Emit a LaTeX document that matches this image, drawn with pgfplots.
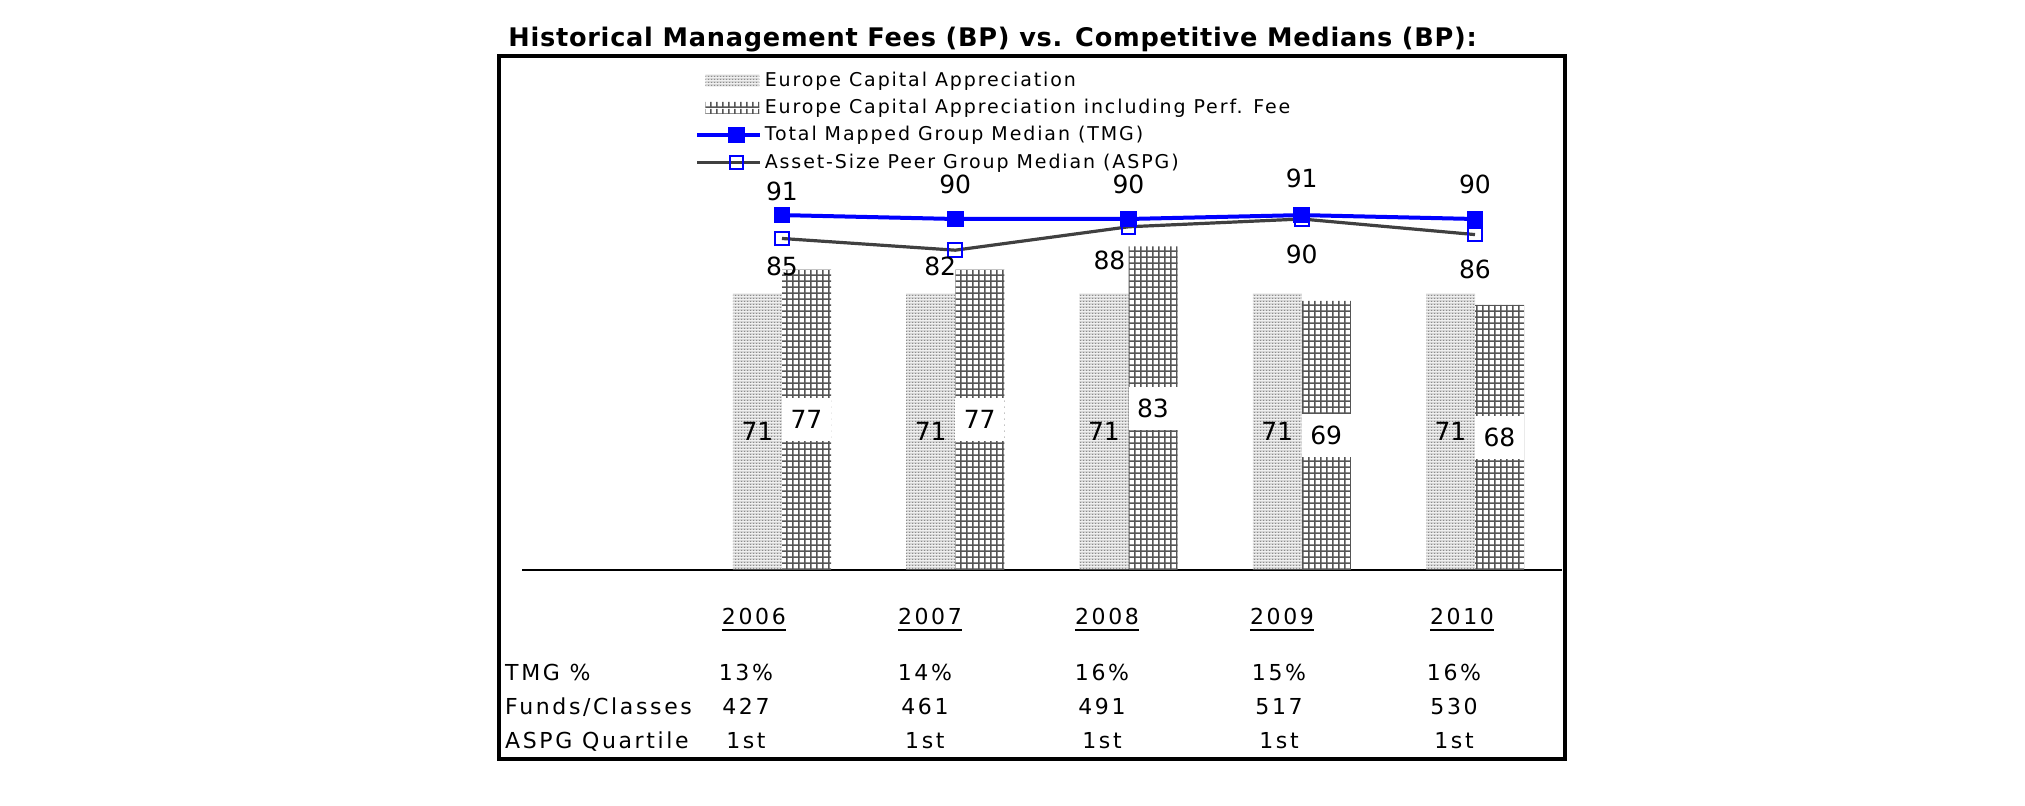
\documentclass[border=0pt]{standalone}
\usepackage{fontspec}
\setmainfont{DejaVu Sans}
\newfontfamily\spaced[LetterSpace=12]{DejaVu Sans}
\newfontfamily\legfont[LetterSpace=10]{DejaVu Sans}
\newfontfamily\titlefont[LetterSpace=2.9]{DejaVu Sans}
\usepackage{pgfplots}
\pgfplotsset{compat=1.18}
\usepackage{pgfplotstable}
\usetikzlibrary{patterns.meta}
\definecolor{tmgblue}{HTML}{0000FF}
\definecolor{aspggray}{HTML}{404040}
\definecolor{gridgray}{HTML}{555555}
\definecolor{dotgray}{HTML}{8C8C8C}
\definecolor{dotbg}{HTML}{D8D8D8}

\tikzdeclarepattern{
  name=stipple,
  type=colored,
  bottom left={(0pt,0pt)},
  top right={(1.5pt,1.5pt)},
  tile size={(1.5pt,1.5pt)},
  code={\fill[dotbg] (0pt,0pt) rectangle (1.5pt,1.5pt);
        \fill[dotgray] (0pt,0pt) rectangle (0.75pt,0.75pt);}
}
\tikzdeclarepattern{
  name=fgrid,
  type=colored,
  bottom left={(0pt,0pt)},
  top right={(3.2pt,3.2pt)},
  tile size={(3.2pt,3.2pt)},
  code={\fill[white] (0pt,0pt) rectangle (3.2pt,3.2pt);
        \fill[gridgray] (0pt,0pt) rectangle (3.2pt,0.9pt);
        \fill[gridgray] (0pt,0pt) rectangle (0.9pt,3.2pt);}
}

\newcommand\ul[1]{\vtop{\hbox{#1}\kern1.6pt\hrule height 1pt}}
\newcommand\tabfont{\spaced\fontsize{11}{13}\selectfont}

\pgfplotsset{
  barleg/.style={legend image code/.code={\path[draw=none,fill=none] (0pt,-4pt) rectangle (31.5pt,4pt);
     \fill[draw=none,pattern=#1] (4pt,-3pt) rectangle (31pt,3pt);}},
  lineleg/.style={legend image code/.code={\path[draw=none,fill=none] (0pt,-4pt) rectangle (31.5pt,4pt);
     \draw[mark repeat=2,mark phase=2,##1] plot coordinates {(0pt,0pt) (19.5pt,0pt) (31.5pt,0pt)};}},
}

\pgfplotstableread{
x y
0 71
1 71
2 71
3 71
4 71
}\eca
\pgfplotstableread{
x y
0 77
1 77
2 83
3 69
4 68
}\ecaperf
\pgfplotstableread{
x y dx dy
0 91 0 12
1 90 0 17.2
2 90 0 17.2
3 91 0 18.3
4 90 0 17.2
}\tmg
\pgfplotstableread{
x y dx dy
0 85 0 -14.2
1 82 -7.5 -8
2 88 -9.5 -16.7
3 90 0 -17.5
4 86 0 -17.2
}\aspg

\begin{document}
\begin{tikzpicture}
\useasboundingbox (0pt,0pt) rectangle (1012.5pt,403pt);
\node[anchor=west, inner sep=0pt, font=\titlefont\fontsize{12.8}{15}\selectfont\bfseries] at (254pt,383pt)
  {Historical Management Fees (BP) vs. Competitive Medians (BP):};
\begin{axis}[
  at={(261.06pt,118pt)}, anchor=south west,
  scale only axis, width=519.75pt, height=253.5pt,
  xmin=-1.5, xmax=4.5, ymin=0, ymax=130,
  axis x line*=bottom, axis y line=none,
  x axis line style={line width=0.7pt, -},
  xtick=\empty, ytick=\empty,
  clip=false,
  /pgf/number format/assume math mode=true,
  legend cell align=left,
  legend style={at={(0.1663,0.983)}, anchor=north west, draw=none, fill=none,
    inner sep=0pt, row sep=4.9pt, column sep=1.2pt,
    font=\legfont\fontsize{9.5}{11}\selectfont,
    nodes={inner sep=0pt}},
]
\addplot[ybar, bar width=24.5pt, bar shift=-12.25pt, draw=none, pattern=stipple,
  visualization depends on={\thisrow{y} \as \rawy},
  nodes near coords,
  every node near coord/.append style={anchor=center, xshift=-12.25pt, yshift={-0.975pt*\rawy}, text=black,
     font=\fontsize{12.5}{15}\selectfont},
  barleg=stipple
] table[x=x,y=y] {\eca};
\addlegendentry{Europe Capital Appreciation}
\addplot[ybar, bar width=24.5pt, bar shift=12.25pt, draw=none, pattern=fgrid,
  visualization depends on={\thisrow{y} \as \rawy},
  nodes near coords,
  every node near coord/.append style={anchor=center, xshift=12.25pt, yshift={-0.975pt*\rawy}, text=black,
     fill=white, inner sep=0pt, minimum width=24.5pt, minimum height=21.5pt,
     font=\fontsize{12.5}{15}\selectfont},
  barleg=fgrid
] table[x=x,y=y] {\ecaperf};
\addlegendentry{Europe Capital Appreciation including Perf. Fee}
\addplot[tmgblue, line width=2pt, mark=square*, mark size=3.9pt,
  mark options={solid, fill=tmgblue, line width=0.5pt},
  visualization depends on={\thisrow{dx} \as \ldx},
  visualization depends on={\thisrow{dy} \as \ldy},
  nodes near coords,
  every node near coord/.append style={anchor=center, xshift=\ldx pt, yshift=\ldy pt,
     text=black, font=\fontsize{12.5}{15}\selectfont},
  lineleg
] table[x=x,y=y] {\tmg};
\addlegendentry{Total Mapped Group Median (TMG)}
\addplot[aspggray, line width=1.6pt, mark=square, mark size=3.4pt,
  mark options={solid, draw=tmgblue, fill=none, line width=1pt},
  visualization depends on={\thisrow{dx} \as \ldx},
  visualization depends on={\thisrow{dy} \as \ldy},
  nodes near coords,
  every node near coord/.append style={anchor=center, xshift=\ldx pt, yshift=\ldy pt,
     text=black, font=\fontsize{12.5}{15}\selectfont},
  lineleg
] table[x=x,y=y] {\aspg};
\addlegendentry{Asset-Size Peer Group Median (ASPG)}

% year headers and data table below the chart
\node[anchor=base, font=\tabfont] at (axis cs:-0.162,0) [yshift=-27.5pt] {\ul{2006}};
\node[anchor=base, font=\tabfont] at (axis cs:0.854,0) [yshift=-27.5pt] {\ul{2007}};
\node[anchor=base, font=\tabfont] at (axis cs:1.876,0) [yshift=-27.5pt] {\ul{2008}};
\node[anchor=base, font=\tabfont] at (axis cs:2.886,0) [yshift=-27.5pt] {\ul{2009}};
\node[anchor=base, font=\tabfont] at (axis cs:3.925,0) [yshift=-27.5pt] {\ul{2010}};

\node[anchor=base west, font=\tabfont] at (axis cs:-1.5,0) [xshift=-12pt, yshift=-55.5pt] {TMG \%};
\node[anchor=base west, font=\tabfont] at (axis cs:-1.5,0) [xshift=-12pt, yshift=-72.25pt] {Funds/Classes};
\node[anchor=base west, font=\tabfont] at (axis cs:-1.5,0) [xshift=-12pt, yshift=-89.5pt] {ASPG Quartile};

\node[anchor=base, font=\tabfont] at (axis cs:-0.208,0) [yshift=-55.5pt] {13\%};
\node[anchor=base, font=\tabfont] at (axis cs:0.825,0) [yshift=-55.5pt] {14\%};
\node[anchor=base, font=\tabfont] at (axis cs:1.847,0) [yshift=-55.5pt] {16\%};
\node[anchor=base, font=\tabfont] at (axis cs:2.869,0) [yshift=-55.5pt] {15\%};
\node[anchor=base, font=\tabfont] at (axis cs:3.879,0) [yshift=-55.5pt] {16\%};

\node[anchor=base, font=\tabfont] at (axis cs:-0.208,0) [yshift=-72.25pt] {427};
\node[anchor=base, font=\tabfont] at (axis cs:0.825,0) [yshift=-72.25pt] {461};
\node[anchor=base, font=\tabfont] at (axis cs:1.847,0) [yshift=-72.25pt] {491};
\node[anchor=base, font=\tabfont] at (axis cs:2.869,0) [yshift=-72.25pt] {517};
\node[anchor=base, font=\tabfont] at (axis cs:3.879,0) [yshift=-72.25pt] {530};

\node[anchor=base, font=\tabfont] at (axis cs:-0.208,0) [yshift=-89.5pt] {1st};
\node[anchor=base, font=\tabfont] at (axis cs:0.825,0) [yshift=-89.5pt] {1st};
\node[anchor=base, font=\tabfont] at (axis cs:1.847,0) [yshift=-89.5pt] {1st};
\node[anchor=base, font=\tabfont] at (axis cs:2.869,0) [yshift=-89.5pt] {1st};
\node[anchor=base, font=\tabfont] at (axis cs:3.879,0) [yshift=-89.5pt] {1st};
\end{axis}
\draw[line width=2pt] (249.25pt,23.25pt) rectangle (782.5pt,375pt);
\end{tikzpicture}
\end{document}
